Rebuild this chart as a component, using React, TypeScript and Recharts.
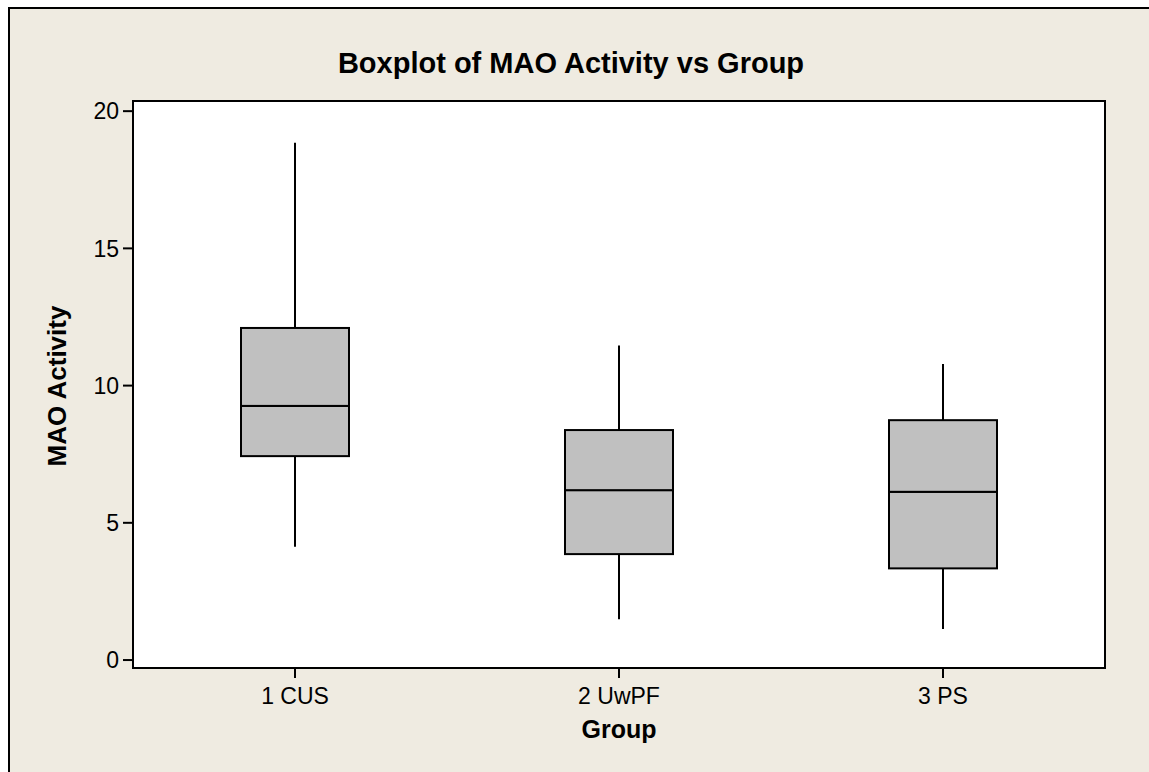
import { Bar, CartesianGrid, ComposedChart, XAxis, YAxis } from "recharts";

// five-number summaries
const groups = ["1 CUS", "2 UwPF", "3 PS"];
const mins = [4.13, 1.49, 1.13];
const q1s = [7.43, 3.86, 3.34];
const medians = [9.26, 6.19, 6.13];
const q3s = [12.1, 8.38, 8.74];
const maxes = [18.85, 11.46, 10.79];
const yTicks = [0, 5, 10, 15, 20];

const data = groups.map((name, i) => ({
  name,
  base: mins[i],
  lowWhisker: q1s[i] - mins[i],
  lowBox: medians[i] - q1s[i],
  highBox: q3s[i] - medians[i],
  highWhisker: maxes[i] - q3s[i],
}));

const FONT = "'Liberation Sans', Arial, sans-serif";
const BG = "#EFEBE1";
const domain: [number, number] = [-0.29, 20.37];

function Whisker(props: any) {
  const { x, y, width, height } = props;
  const cx = x + width / 2;
  return <line x1={cx} x2={cx} y1={y} y2={y + height} stroke="#000" strokeWidth={2} />;
}

function BoxPart(props: any) {
  const { x, y, width, height } = props;
  return (
    <rect x={x} y={y} width={width} height={height} fill="#C0C0C0" stroke="#000" strokeWidth={2} />
  );
}

const axisLine = { stroke: "#000", strokeWidth: 2 };
const tickStyle = { fill: "#000", fontSize: 23, fontFamily: FONT };

export default function App() {
  return (
    <div style={{ position: "absolute", left: 0, top: 0, width: 1149, height: 772, overflow: "hidden" }}>
      <div
        style={{
          position: "absolute",
          left: 8,
          top: 7,
          right: 0,
          bottom: 0,
          background: BG,
          borderLeft: "2px solid #000",
          borderTop: "2px solid #000",
        }}
      />
      <div
        style={{
          position: "absolute",
          left: 0,
          width: 1142,
          top: 48.5,
          textAlign: "center",
          fontFamily: FONT,
          fontWeight: "bold",
          fontSize: 29,
          lineHeight: "29px",
          color: "#000",
        }}
      >
        Boxplot of MAO Activity vs Group
      </div>
      <div style={{ position: "absolute", left: 0, top: 0, fontFamily: FONT, fontSize: 23 }}>
        <ComposedChart
          width={1149}
          height={772}
          data={data}
          margin={{ top: 101, right: 44, left: 73, bottom: 64 }}
          style={{ fontFamily: FONT, fontSize: 23 }}
        >
          <CartesianGrid fill="#ffffff" stroke="none" horizontal={false} vertical={false} />
          <XAxis
            dataKey="name"
            height={40}
            tickSize={10}
            tickMargin={10}
            fontSize={23}
            axisLine={axisLine}
            tickLine={axisLine}
            tick={tickStyle}
          />
          <YAxis
            type="number"
            domain={domain}
            allowDataOverflow
            ticks={yTicks}
            width={60}
            tickSize={10}
            tickMargin={4}
            fontSize={23}
            axisLine={axisLine}
            tickLine={axisLine}
            tick={tickStyle}
          />
          <Bar dataKey="base" stackId="b" fill="none" barSize={108} isAnimationActive={false} />
          <Bar dataKey="lowWhisker" stackId="b" barSize={108} shape={Whisker} isAnimationActive={false} />
          <Bar dataKey="lowBox" stackId="b" barSize={108} shape={BoxPart} isAnimationActive={false} />
          <Bar dataKey="highBox" stackId="b" barSize={108} shape={BoxPart} isAnimationActive={false} />
          <Bar dataKey="highWhisker" stackId="b" barSize={108} shape={Whisker} isAnimationActive={false} />
        </ComposedChart>
      </div>
      {/* plot frame */}
      <div
        style={{
          position: "absolute",
          left: 132,
          top: 100,
          width: 974,
          height: 569,
          boxSizing: "border-box",
          border: "2px solid #000",
          pointerEvents: "none",
        }}
      />
      <div
        style={{
          position: "absolute",
          left: 469,
          width: 300,
          top: 716.8,
          textAlign: "center",
          fontFamily: FONT,
          fontWeight: "bold",
          fontSize: 25,
          lineHeight: "25px",
          color: "#000",
        }}
      >
        Group
      </div>
      <div
        style={{
          position: "absolute",
          left: 57 - 150,
          top: 386 - 15,
          width: 300,
          height: 30,
          transform: "rotate(-90deg)",
          textAlign: "center",
          fontFamily: FONT,
          fontWeight: "bold",
          fontSize: 26,
          lineHeight: "30px",
          color: "#000",
        }}
      >
        MAO Activity
      </div>
    </div>
  );
}
